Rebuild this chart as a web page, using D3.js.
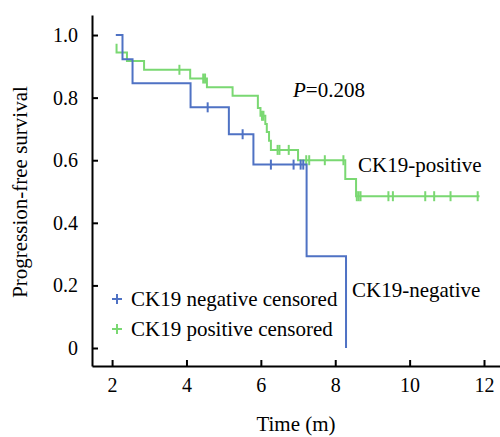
<!DOCTYPE html>
<html>
<head>
<meta charset="utf-8">
<script src="https://cdn.jsdelivr.net/npm/d3@7"></script>
</head>
<body style="margin:0">
<svg id="chart" width="500" height="437"></svg>
<script>
// CK19-negative: step times and survival after each step
var negTimes = [2.10, 2.28, 2.55, 4.11, 5.14, 5.80, 7.23, 8.29];
var negSurv = [1.0, 0.923, 0.846, 0.769, 0.683, 0.586, 0.293, 0.0];
var negEnd = 8.29;
var negCensor = [4.57, 5.51, 6.27, 6.88, 7.07, 7.14];

// CK19-positive
var posTimes = [2.12, 2.12, 2.40, 2.86, 4.10, 4.55, 5.24, 5.92, 5.99, 6.12, 6.16, 6.22, 6.27, 7.00, 8.27, 8.56];
var posSurv = [0.972, 0.944, 0.917, 0.889, 0.861, 0.833, 0.806, 0.767, 0.742, 0.716, 0.690, 0.662, 0.633, 0.600, 0.540, 0.485];
var posEnd = 11.88;
var posCensor = [3.81, 4.45, 4.50, 6.03, 6.07, 6.45, 6.50, 6.75, 7.22, 7.30, 7.72, 8.22, 8.58, 8.63, 8.68, 9.43, 9.55, 10.42, 10.66, 11.10, 11.83];

var xTicks = [2, 4, 6, 8, 10, 12];
var yTicks = [0, 0.2, 0.4, 0.6, 0.8, 1.0];
var yTickLabels = ["0", "0.2", "0.4", "0.6", "0.8", "1.0"];

var blue = "#4f72c4";
var green = "#7ad872";
var font = "'Liberation Serif'";

var svg = d3.select("#chart");

var x = d3.scaleLinear().domain([1.46, 12.43]).range([92, 500]);
var y = d3.scaleLinear().domain([-0.0575, 1.064]).range([366, 15]);

// axes (ticks pointing inward)
var xAxis = svg.append("g")
    .attr("transform", "translate(0," + y.range()[0] + ")")
    .call(d3.axisBottom(x).tickValues(xTicks).tickSizeInner(-6).tickSizeOuter(0).tickPadding(12).tickFormat(d3.format("d")));
var yAxis = svg.append("g")
    .attr("transform", "translate(" + x.range()[0] + ",0)")
    .call(d3.axisLeft(y).tickValues(yTicks).tickSizeInner(-6).tickSizeOuter(0).tickPadding(14)
        .tickFormat(function (d, i) { return yTickLabels[i]; }));
[xAxis, yAxis].forEach(function (g) {
    g.attr("font-family", "Liberation Serif").attr("font-size", 20);
    g.select(".domain").attr("stroke", "#000").attr("stroke-width", 2);
    g.selectAll(".tick line").attr("stroke", "#000").attr("stroke-width", 2);
    g.selectAll(".tick text")
        .style("font-family", font)
        .style("font-size", "20px")
        .attr("fill", "#000");
});

function stepPath(times, surv, end) {
    var pts = [];
    for (var i = 0; i < times.length; i++) {
        if (i > 0) pts.push([times[i], surv[i - 1]]);
        pts.push([times[i], surv[i]]);
    }
    pts.push([end, surv[surv.length - 1]]);
    return d3.line().x(function (d) { return x(d[0]); }).y(function (d) { return y(d[1]); })(pts);
}

function survAt(times, surv, t) {
    var s = surv[0];
    for (var i = 0; i < times.length; i++) {
        if (times[i] <= t) s = surv[i];
    }
    return s;
}

function drawCurve(times, surv, end, censor, color) {
    svg.append("path")
        .attr("d", stepPath(times, surv, end))
        .attr("fill", "none")
        .attr("stroke", color)
        .attr("stroke-width", 2);
    svg.append("g").selectAll("line")
        .data(censor)
        .enter().append("line")
        .attr("x1", function (d) { return x(d); })
        .attr("x2", function (d) { return x(d); })
        .attr("y1", function (d) { return y(survAt(times, surv, d)) - 5; })
        .attr("y2", function (d) { return y(survAt(times, surv, d)) + 5; })
        .attr("stroke", color)
        .attr("stroke-width", 2);
}

drawCurve(posTimes, posSurv, posEnd, posCensor, green);
drawCurve(negTimes, negSurv, negEnd, negCensor, blue);

function label(sel) {
    return sel.style("font-family", font).style("font-size", "21px").attr("fill", "#000");
}

// annotations
var p = label(svg.append("text").attr("x", 293).attr("y", 97));
p.append("tspan").style("font-style", "italic").text("P");
p.append("tspan").text("=0.208");

label(svg.append("text").attr("x", 358).attr("y", 172)).text("CK19-positive");
label(svg.append("text").attr("x", 352).attr("y", 297)).text("CK19-negative");

// legend
var legend = [
    { label: "CK19 negative censored", color: blue },
    { label: "CK19 positive censored", color: green }
];
var lg = svg.append("g").selectAll("g")
    .data(legend)
    .enter().append("g")
    .attr("transform", function (d, i) { return "translate(117," + (299 + i * 30) + ")"; });
lg.append("line").attr("x1", -5).attr("x2", 5).attr("stroke", function (d) { return d.color; }).attr("stroke-width", 2);
lg.append("line").attr("y1", -5).attr("y2", 5).attr("stroke", function (d) { return d.color; }).attr("stroke-width", 2);
label(lg.append("text").attr("x", 14).attr("y", 7)).text(function (d) { return d.label; });

// axis titles
label(svg.append("text")
    .attr("x", 296).attr("y", 431)
    .attr("text-anchor", "middle"))
    .text("Time (m)");
label(svg.append("text")
    .attr("transform", "translate(27,192) rotate(-90)")
    .attr("text-anchor", "middle"))
    .text("Progression-free survival");
</script>
</body>
</html>
